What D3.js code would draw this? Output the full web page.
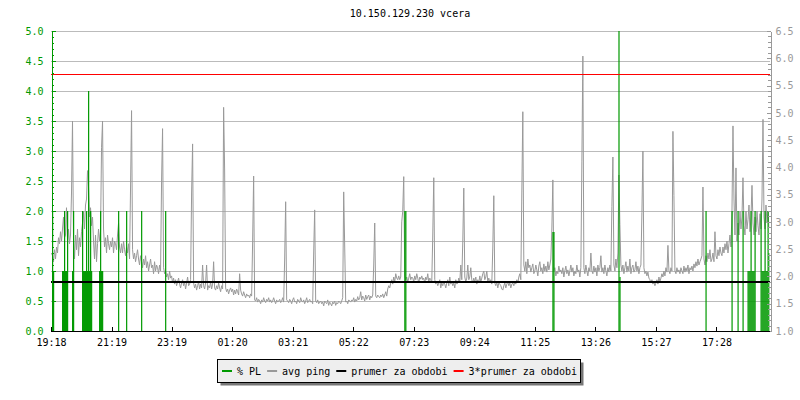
<!DOCTYPE html>
<html><head><meta charset="utf-8">
<script src="https://cdn.jsdelivr.net/npm/d3@7"></script>
<style>
body{margin:0;background:#fff}
svg{display:block}
text{font-family:"DejaVu Sans Mono",monospace;font-size:10px}
</style>
</head><body><svg id="c" width="800" height="400"></svg>
<script>
// ---------- data ----------
const title = "10.150.129.230 vcera";
const xTickMinutes = [0,121,241,362,483,604,725,846,967,1088,1209,1330];
const xTickLabels = ["19:18","21:19","23:19","01:20","03:21","05:22","07:23","09:24","11:25","13:26","15:27","17:28"];
const leftTicks = [0,0.5,1,1.5,2,2.5,3,3.5,4,4.5,5];
const rightTicks = [1,1.5,2,2.5,3,3.5,4,4.5,5,5.5,6,6.5];
const sampleMinutes = 2;   // ping sample step (minutes)
// avg ping (ms), one value per 2-minute sample, starting 19:18
const pingMs = [
2.43,2.38,2.27,2.49,2.32,2.54,2.43,2.71,2.60,2.82, 2.65,2.87,3.09,2.71,2.76,3.26,2.65,2.87,2.60,2.76,
3.53,4.85,2.65,2.32,2.76,2.49,2.87,2.38,2.71,2.54, 2.82,2.98,3.20,2.87,3.31,3.42,3.94,3.64,3.09,3.26,
2.93,3.09,2.65,2.32,2.76,2.27,2.60,2.87,2.65,2.82, 4.36,4.85,2.87,2.54,2.71,2.43,2.76,2.60,2.49,2.65,
2.54,2.71,2.43,2.65,2.60,2.49,2.76,2.98,2.54,2.43, 2.60,2.43,2.65,2.49,2.38,2.54,2.43,2.60,2.32,3.64,
5.04,2.49,2.32,2.43,2.27,2.38,2.49,2.32,2.21,2.38, 2.27,2.16,2.32,2.21,2.38,2.16,2.27,2.10,2.21,2.32,
2.16,2.21,2.05,2.27,2.10,2.21,2.16,2.05,2.21,2.10, 3.75,4.71,2.16,2.05,2.10,1.99,2.05,1.94,2.10,1.97,
2.01,1.88,1.97,1.86,1.94,1.83,1.90,1.97,1.86,1.79, 1.88,1.94,1.83,1.90,1.77,1.88,1.99,1.83,1.86,1.94,
3.53,4.43,1.88,1.79,1.86,1.75,1.83,1.90,1.77,1.86, 1.79,2.21,1.83,1.77,1.88,2.21,1.75,1.83,1.79,1.90,
1.77,1.86,2.27,1.79,1.75,1.83,1.77,1.88,1.79,1.72, 1.83,1.77,5.10,3.97,1.79,1.72,1.77,1.68,1.75,1.79,
1.72,1.77,1.66,1.75,1.68,1.77,1.72,1.66,2.05,1.75, 1.68,1.64,1.72,1.66,1.61,1.68,1.64,1.66,1.61,1.68,
1.64,2.65,3.84,1.57,1.55,1.61,1.53,1.58,1.55,1.50, 1.57,1.53,1.61,1.55,1.52,1.58,1.55,1.61,1.53,1.57,
1.52,1.55,1.61,1.55,1.50,1.57,1.53,1.55,1.58,1.52, 1.55,1.61,1.53,2.32,3.37,1.57,1.55,1.52,1.58,1.55,
1.50,1.57,1.61,1.53,1.55,1.50,1.58,1.55,1.52,1.61, 1.55,1.53,1.57,1.50,1.55,1.61,1.52,1.55,1.58,1.53,
1.55,1.50,2.43,3.22,1.55,1.52,1.57,1.50,1.53,1.55, 1.50,1.53,1.46,1.55,1.52,1.50,1.57,1.47,1.53,1.50,
1.46,1.53,1.50,1.55,1.47,1.52,1.50,1.55,1.53,1.50, 1.55,1.61,3.55,2.54,1.53,1.55,1.50,1.57,1.55,1.53,
1.57,1.55,1.61,1.53,1.58,1.55,1.63,1.57,1.61,1.72, 1.57,1.64,1.61,1.55,1.66,1.58,1.63,1.66,1.57,1.64,
1.61,1.66,2.21,2.98,1.64,1.61,1.66,1.63,1.61,1.66, 1.63,1.68,1.61,1.66,1.72,1.64,1.77,1.83,1.79,1.88,
1.94,1.86,1.99,1.90,2.05,1.97,1.94,2.01,1.94,1.99, 3.00,3.20,3.83,2.01,1.94,1.99,1.90,1.97,2.05,1.94,
1.99,1.97,1.90,2.01,1.94,2.05,1.97,1.88,1.99,1.95, 2.01,1.94,1.97,1.88,1.99,1.94,2.05,1.90,1.97,1.94,
1.88,2.76,3.81,1.94,1.86,1.90,1.83,1.88,1.94,1.79, 1.88,1.83,1.90,1.86,1.79,1.88,1.94,1.83,1.99,1.86,
1.90,1.83,1.88,1.79,1.94,1.86,1.88,1.97,1.90,2.21, 1.94,2.65,3.62,1.99,1.90,1.97,2.21,1.94,1.99,2.16,
1.94,1.88,1.97,1.90,1.99,1.86,1.94,1.88,2.01,1.90, 1.97,2.05,2.10,1.94,1.99,2.10,1.90,1.97,1.88,1.94,
1.86,2.54,3.48,1.88,1.83,1.90,1.79,1.88,1.86,1.83, 1.77,1.75,1.83,1.88,1.79,1.86,1.90,1.83,1.88,1.79,
1.86,1.88,1.83,1.90,1.86,1.94,1.88,1.99,2.05,1.94, 3.53,5.02,2.21,2.10,2.27,2.05,2.32,2.16,2.21,2.08,
2.16,2.23,2.05,2.10,2.21,2.12,2.01,2.19,2.27,2.10, 2.16,2.05,2.23,2.10,2.19,2.08,2.27,2.12,2.21,2.32,
2.87,3.77,2.10,2.16,2.01,2.10,2.05,2.19,2.08,2.12, 2.05,2.16,1.99,2.10,2.19,2.05,2.12,2.01,2.10,2.21,
2.08,2.16,2.01,2.10,2.05,2.21,2.08,2.12,1.99,2.16, 4.10,6.04,2.16,2.05,2.21,2.10,2.01,2.16,2.10,2.43,
2.10,2.05,2.19,2.08,2.16,2.01,2.21,2.10,2.16,2.38, 2.08,2.16,2.05,2.21,2.10,2.01,2.16,2.08,2.21,2.10,
3.28,4.19,2.21,2.10,2.32,2.16,2.43,3.86,2.95,2.21, 2.10,2.21,2.05,2.16,2.27,2.08,2.19,2.10,2.32,2.05,
2.16,2.21,2.08,2.12,2.27,2.10,2.19,2.05,2.16,2.21, 3.17,4.30,2.16,2.05,2.10,2.01,2.08,1.97,1.94,1.88,
1.94,1.86,1.90,1.83,1.88,1.94,1.86,1.99,1.90,1.97, 2.05,1.99,2.10,2.01,2.16,2.08,2.57,2.10,2.05,2.16,
2.10,4.66,3.48,2.10,2.05,2.16,2.08,2.12,2.05,2.16, 2.10,2.05,2.19,2.08,2.16,2.10,2.21,2.05,2.16,2.12,
2.19,2.10,2.23,2.16,2.27,2.19,2.32,2.21,2.27,2.32, 2.38,3.64,2.32,2.21,2.38,2.27,2.43,2.32,2.49,2.27,
2.32,2.43,2.27,2.82,2.38,2.32,2.49,2.38,2.54,2.43, 2.38,2.54,2.43,2.60,2.49,2.65,2.43,2.60,2.76,2.54,
3.20,4.76,3.42,2.76,3.99,2.65,2.98,2.76,3.20,2.87, 3.09,3.81,2.93,2.76,3.20,2.87,3.04,3.31,2.82,3.09,
3.67,2.98,2.76,3.09,2.82,3.20,2.93,2.76,3.15,2.87, 3.42,4.88,3.09,2.87,3.31,2.98,3.20,2.90
];
// packet loss (%), 2-minute samples (only non-zero ones listed)
const plMinutes = [2,4,22,24,26,28,30,32,42,44,62,64,66,68,70,72,74,76,78,80,96,98,100,102,134,150,180,228,
  706,708,1002,1004,1134,1136,1308,1360,1372,1382,1392,1394,1396,1398,1400,1402,1404,1406,
  1418,1420,1422,1424,1426,1428,1430,1432,1434];
const plValues  = [2,1,1,1,2,1,1,2,1,2,2,1,1,1,2,1,4,1,2,1,1,2,1,1,2,2,2,2,
  2,2,1.65,1.65,5,0.9,2,2,2,2,1,1,1,2,1,1,1,2,
  2,1,1,1,2,1,1,2,1.3];
const avgPing = 1.90;       // "prumer za obdobi"
const avgPing3 = 5.70;      // "3*prumer za obdobi"
const legendLabels = ["% PL","avg ping","prumer za obdobi","3*prumer za obdobi"];
const legendColors = ["#009900","#999999","#000000","#ff0000"];

// ---------- chart ----------
const svg = d3.select("#c");
const L = 51, R = 769.5, T = 31, B = 331;
const x = d3.scaleLinear().domain([0,1436]).range([L, R]);
const yL = d3.scaleLinear().domain([0,5]).range([B, T]);
const yR = d3.scaleLinear().domain([1,6.5]).range([B, T]);

svg.append("text").attr("x", 410).attr("y", 17).attr("text-anchor","middle").attr("fill","#000").text(title);

// grid
svg.append("g").selectAll("line").data(leftTicks.filter(v=>v>0)).join("line")
  .attr("x1", L).attr("x2", 770).attr("y1", d=>Math.round(yL(d))+0.5).attr("y2", d=>Math.round(yL(d))+0.5)
  .attr("stroke","#bbbbbb").attr("stroke-width",1);

svg.append("clipPath").attr("id","clip").append("rect").attr("x",L).attr("y",T-1).attr("width",R-L).attr("height",B-T+1);
const plot = svg.append("g").attr("clip-path","url(#clip)");

// ping line
const line = d3.line().x((d,i)=>x(i*sampleMinutes)+0.5).y(d=>yR(d)).curve(d3.curveLinear);
plot.append("path").datum(pingMs).attr("d", line).attr("fill","none").attr("stroke","#999999").attr("stroke-width",1);

// packet loss bars
plot.append("g").selectAll("rect").data(plMinutes.map((m,i)=>({m, v:plValues[i]}))).join("rect")
  .attr("x", d=>x(d.m)).attr("width", d=>Math.max(1.2, x(d.m+2)-x(d.m)))
  .attr("y", d=>yL(d.v)).attr("height", d=>B - yL(d.v)).attr("fill","#009900");

// average lines
const avgG = svg.append("g").attr("shape-rendering","crispEdges");
avgG.append("rect").attr("x",L).attr("width",R-L).attr("y",Math.round(yR(avgPing))-1).attr("height",2).attr("fill","#000000");
avgG.append("rect").attr("x",L).attr("width",R-L).attr("y",Math.floor(yR(avgPing3))).attr("height",1).attr("fill","#ff0000");

// left axis
const gl = svg.append("g").attr("transform",`translate(${L+0.5},0)`).attr("shape-rendering","crispEdges")
  .call(d3.axisLeft(yL).tickValues(leftTicks).tickFormat(d3.format(".1f")).tickSizeInner(-4).tickSizeOuter(0).tickPadding(8));
gl.selectAll("path,line").attr("stroke","#009900");
gl.selectAll("text").attr("fill","#009900").style("font-family",'"DejaVu Sans Mono",monospace').style("font-size","10px");
const glm = svg.append("g").attr("transform",`translate(${L+0.5},0)`).attr("shape-rendering","crispEdges")
  .call(d3.axisLeft(yL).tickValues(d3.range(0,51).map(v=>v/10)).tickFormat("").tickSizeInner(-2.5).tickSizeOuter(0));
glm.selectAll("path,line").attr("stroke","#009900");

// right axis
const gr = svg.append("g").attr("transform",`translate(770.5,0)`).attr("shape-rendering","crispEdges")
  .call(d3.axisRight(yR).tickValues(rightTicks).tickFormat(d3.format(".1f")).tickSizeInner(-4).tickSizeOuter(0).tickPadding(5));
gr.selectAll("path,line").attr("stroke","#999999");
gr.selectAll("text").attr("fill","#999999").style("font-family",'"DejaVu Sans Mono",monospace').style("font-size","10px");
const grm = svg.append("g").attr("transform",`translate(770.5,0)`).attr("shape-rendering","crispEdges")
  .call(d3.axisRight(yR).tickValues(d3.range(10,66).map(v=>v/10)).tickFormat("").tickSizeInner(-2.5).tickSizeOuter(0));
grm.selectAll("path,line").attr("stroke","#999999");

// bottom axis
const gb = svg.append("g").attr("transform",`translate(0,${B+0.5})`).attr("shape-rendering","crispEdges")
  .call(d3.axisBottom(x).tickValues(xTickMinutes).tickFormat((d,i)=>xTickLabels[i]).tickSizeInner(-5).tickSizeOuter(0).tickPadding(7));
gb.select("path").attr("d",`M${L},0H770`).attr("stroke","#000");
gb.selectAll("line").attr("stroke","#000");
gb.selectAll("text").attr("fill","#000").style("font-family",'"DejaVu Sans Mono",monospace').style("font-size","10px");

// legend
const lg = svg.append("g");
lg.append("rect").attr("x",220.5).attr("y",362.5).attr("width",363).attr("height",23).attr("fill","#777");
lg.append("rect").attr("x",217.5).attr("y",359.5).attr("width",363).attr("height",23).attr("fill","#eeeeee").attr("stroke","#000");
let lx = 222;
legendLabels.forEach((lab,i)=>{
  lg.append("rect").attr("x",lx).attr("width",10).attr("y",370).attr("height",2).attr("fill",legendColors[i]);
  const t = lg.append("text").attr("x",lx+15).attr("y",374.5).attr("fill","#000").text(lab);
  lx += 15 + t.node().getComputedTextLength() + 6;
});
</script></body></html>
